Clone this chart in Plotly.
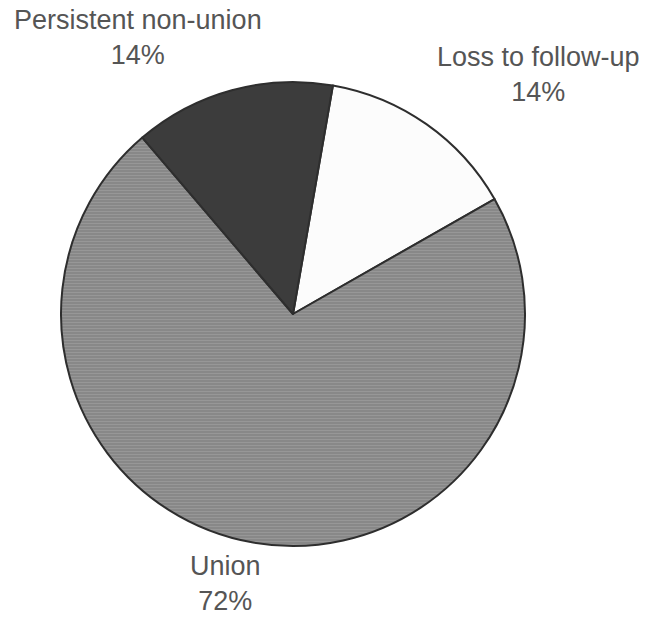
import plotly.graph_objects as go

# Data
labels = ["Loss to follow-up", "Union", "Persistent non-union"]
values = [14, 72, 14]
colors = ["#fcfcfc", "#8b8b8b", "#3c3c3c"]

# label annotation placement (pixel centers in a 646x618 canvas)
W, H = 646, 618
label_pos = {
    "Loss to follow-up": (538, 74),
    "Union": (225, 583),
    "Persistent non-union": (137.5, 37),
}

cx, cy, r = 293, 314, 232

fig = go.Figure(go.Pie(
    labels=labels,
    values=values,
    sort=False,
    direction="clockwise",
    rotation=9.9,
    textinfo="none",
    hoverinfo="label+percent",
    marker=dict(
        colors=colors,
        line=dict(color="#2e2e2e", width=2),
        pattern=dict(shape=["", "-", ""], fgcolor="#979797", bgcolor="#888888",
                     size=3, solidity=0.35, fillmode="replace"),
    ),
    domain=dict(x=[(cx - r) / W, (cx + r) / W], y=[(H - cy - r) / H, (H - cy + r) / H]),
    showlegend=False,
))

for lab, val in zip(labels, values):
    px, py = label_pos[lab]
    fig.add_annotation(
        x=px / W, y=1 - py / H, xref="paper", yref="paper",
        xanchor="center", yanchor="middle",
        text=f"{lab}<br>{val}%", showarrow=False, align="center",
        font=dict(family="Liberation Sans, Arial, sans-serif", size=27, color="#555555"),
    )

fig.update_layout(
    width=W, height=H,
    margin=dict(l=0, r=0, t=0, b=0),
    paper_bgcolor="white",
    plot_bgcolor="white",
)

fig.write_html(
    "out.html",
    config={"displayModeBar": False},
    post_script="document.body.style.margin='0';document.body.style.overflow='hidden';",
)
